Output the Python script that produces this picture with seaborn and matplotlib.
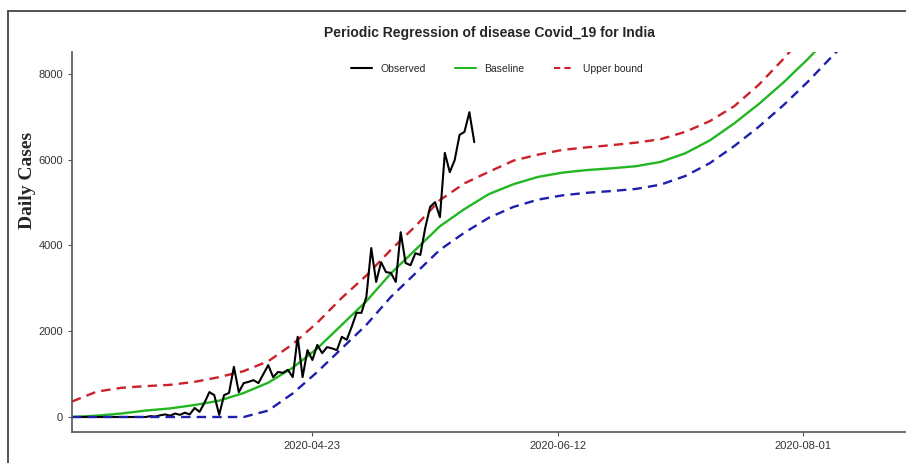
import numpy as np
import pandas as pd
import matplotlib
matplotlib.use("Agg")
import matplotlib.pyplot as plt
from matplotlib.lines import Line2D
import seaborn as sns

# ---- data ----
start_date = "2020-03-05"
observed = [0]*16 + [20, 10, 40, 60, 30, 80, 50, 100, 60, 210,
            120, 330, 580, 510, 50, 510, 560, 1170, 580, 790,
            820, 860, 790, 1000, 1210, 930, 1050, 1030, 1100, 930,
            1870, 930, 1560, 1330, 1680, 1490, 1630, 1600, 1560, 1870,
            1800, 2100, 2430, 2430, 2800, 3940, 3150, 3610, 3380, 3360,
            3150, 4310, 3590, 3540, 3820, 3780, 4410, 4900, 5010, 4660,
            6160, 5710, 5990, 6580, 6650, 7110, 6410]

curve_days = [0, 5, 10, 15, 20, 25, 30, 35, 40, 45, 50, 55, 60, 65, 70, 75, 80,
              85, 90, 95, 100, 105, 110, 115, 120, 125, 130, 135, 140, 145, 150,
              155, 160]
baseline = [0, 30, 80, 150, 200, 280, 380, 560, 800, 1150, 1600, 2150, 2700,
            3350, 3900, 4450, 4850, 5200, 5430, 5600, 5700, 5760, 5800, 5850,
            5950, 6150, 6450, 6850, 7300, 7800, 8350, 8950, 9500]
upper = [360, 590, 680, 720, 750, 820, 930, 1070, 1300, 1700, 2200, 2780, 3300,
         3900, 4450, 5060, 5450, 5720, 5980, 6120, 6230, 6290, 6340, 6400,
         6480, 6650, 6900, 7250, 7750, 8350, 9000, 9600, 10200]
lower = [0, 0, 0, 0, 0, 0, 0, 0, 150, 550, 1050, 1600, 2150, 2800, 3350, 3900,
         4300, 4650, 4900, 5070, 5170, 5230, 5270, 5320, 5420, 5620, 5920,
         6320, 6770, 7270, 7820, 8420, 9000]
tick_dates = ["2020-04-23", "2020-06-12", "2020-08-01"]
y_ticks = [0, 2000, 4000, 6000, 8000]

# ---- frames ----
t0 = pd.Timestamp(start_date)
obs_df = pd.DataFrame({"date": t0 + pd.to_timedelta(np.arange(len(observed)), unit="D"),
                       "value": observed})
curves = pd.DataFrame({"date": t0 + pd.to_timedelta(curve_days, unit="D"),
                       "baseline": baseline, "upper": upper, "lower": lower})

sns.set_style("white")
plt.rcParams["font.family"] = ["Liberation Sans", "DejaVu Sans"]

fig = plt.figure(figsize=(9.06, 4.63), dpi=100)
ax = fig.add_axes([72/906, 1-432/463, 1-72/906, (432-52)/463])

green = "#22b622"
red = "#cc2129"
blue = "#1f1fae"
lw = 1.7

sns.lineplot(data=curves, x="date", y="baseline", ax=ax, color=green, lw=lw)
sns.lineplot(data=curves, x="date", y="upper", ax=ax, color=red, lw=lw,
             linestyle=(0, (4, 2.6)))
sns.lineplot(data=obs_df, x="date", y="value", ax=ax, color="black", lw=1.5)
sns.lineplot(data=curves, x="date", y="lower", ax=ax, color=blue, lw=lw,
             linestyle=(0, (4, 2.6)))

ax.set_xlim(t0, t0 + pd.Timedelta(days=170))
ax.set_ylim(-350, 8513)
ax.set_yticks(y_ticks)
ax.set_yticklabels([str(v) for v in y_ticks])
ax.set_xticks([pd.Timestamp(d) for d in tick_dates])
ax.set_xticklabels(tick_dates)
ax.tick_params(axis="both", labelsize=8, colors="#555555", length=3, width=0.8,
               direction="out", bottom=True, left=True)
for lab in ax.get_xticklabels() + ax.get_yticklabels():
    lab.set_color("#333333")
ax.set_xlabel("")
ax.set_ylabel("")
fig.text(28/906, 1-180/463, "Daily Cases", rotation=90, ha="center", va="center",
         fontsize=14, fontweight="bold", family=["Liberation Serif", "DejaVu Serif"])
for s in ["top", "right"]:
    ax.spines[s].set_visible(False)
for s in ["left", "bottom"]:
    ax.spines[s].set_color("#555555")
    ax.spines[s].set_linewidth(1.2)

fig.text(489/906, 1-33/463, "Periodic Regression of disease Covid_19 for India",
         ha="center", va="center", fontsize=10, fontweight="bold")

handles = [Line2D([], [], color="black", lw=1.5),
           Line2D([], [], color=green, lw=1.5),
           Line2D([], [], color=red, lw=1.5, linestyle=(0, (3, 2)))]
leg = fig.legend(handles, ["Observed", "Baseline", "Upper bound"],
                 loc="center", bbox_to_anchor=(497/906, 1-69/463), ncol=3,
                 frameon=False, handlelength=2.0, columnspacing=2.8,
                 handletextpad=0.8,
                 prop={"family": ["Liberation Sans Narrow", "Liberation Sans"], "size": 7.5})

# outer frame of the picture
fig.add_artist(Line2D([8/906, 1], [1-11/463, 1-11/463], transform=fig.transFigure,
                      color="#444444", lw=1.3))
fig.add_artist(Line2D([8/906, 8/906], [0, 1-11/463], transform=fig.transFigure,
                      color="#444444", lw=1.3))

fig.savefig("out.png", dpi=100)
